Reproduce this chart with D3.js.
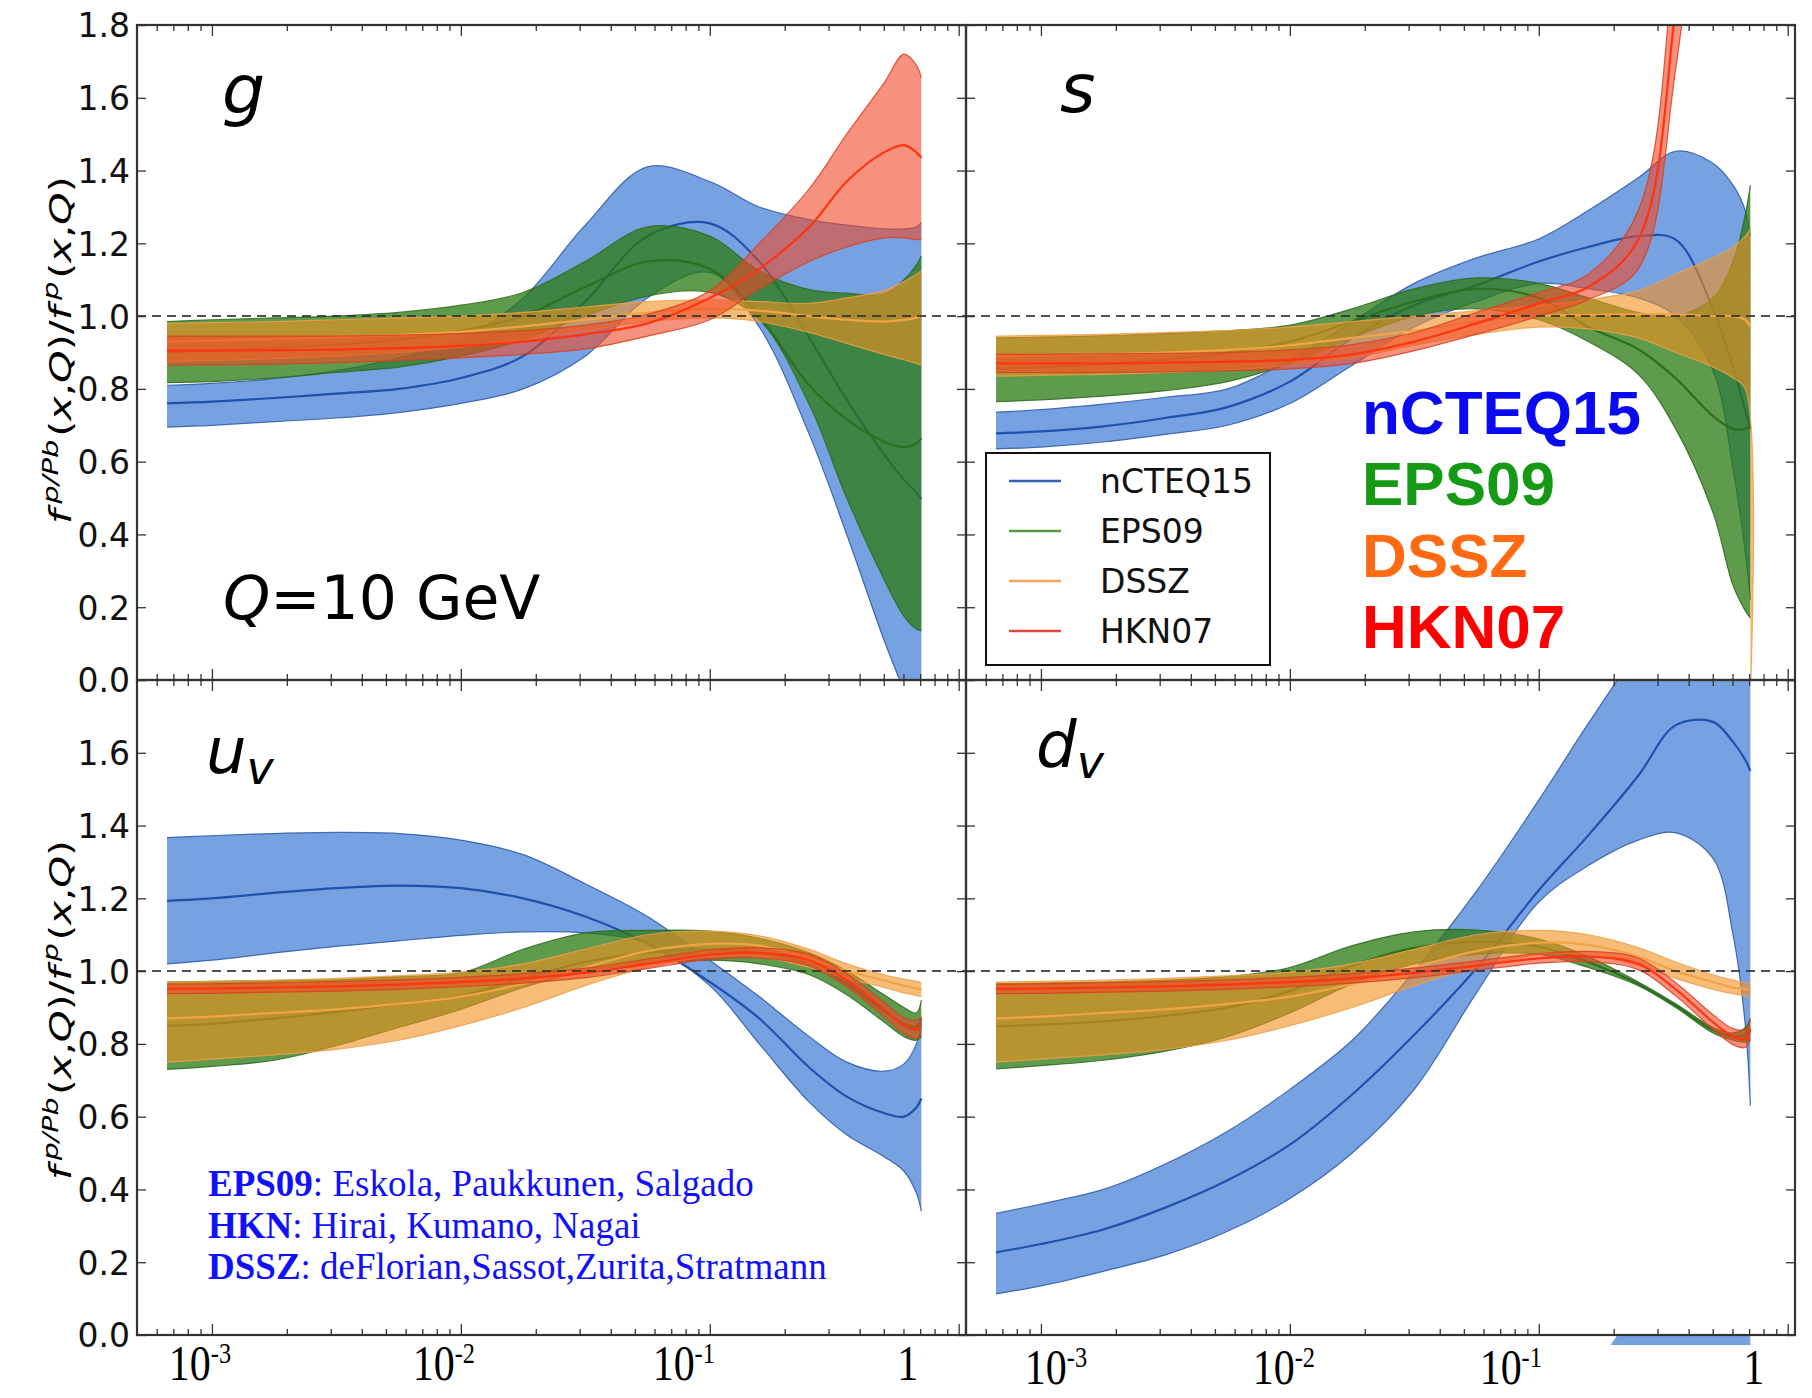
<!DOCTYPE html>
<html>
<head>
<meta charset="utf-8">
<script src="https://cdn.jsdelivr.net/npm/d3@7"></script>
<style>
  body { margin: 0; background: #fff; }
  svg { display: block; }
  .ax .tick line { stroke: #333; stroke-width: 1.3; }
  .ax .domain { display: none; }
</style>
</head>
<body>
<svg id="chart" width="1812" height="1398"></svg>
<script>
const xGrid = [6.6e-4, 1e-3, 1.78e-3, 3.16e-3, 5.62e-3, 0.01, 0.0178, 0.0316, 0.0562, 0.1, 0.158, 0.251, 0.355, 0.501, 0.603, 0.676, 0.708];

const setNames = ['nCTEQ15', 'EPS09', 'DSSZ', 'HKN07'];

// ---- g ----
const gNcteqHi = [0.81, 0.815, 0.828, 0.85, 0.885, 0.935, 1.05, 1.25, 1.41, 1.37, 1.30, 1.265, 1.25, 1.24, 1.24, 1.245, 1.257];
const gNcteqMid = [0.76, 0.765, 0.775, 0.787, 0.80, 0.83, 0.89, 1.04, 1.22, 1.255, 1.15, 0.94, 0.77, 0.62, 0.55, 0.515, 0.497];
const gNcteqLo = [0.695, 0.70, 0.71, 0.72, 0.735, 0.76, 0.80, 0.89, 1.05, 1.12, 0.97, 0.675, 0.40, 0.11, -0.03, -0.12, -0.15];
const gEpsHi = [0.985, 0.99, 0.995, 1.0, 1.01, 1.03, 1.065, 1.15, 1.245, 1.22, 1.124, 1.073, 1.063, 1.06, 1.10, 1.14, 1.165];
const gEpsMid = [0.90, 0.905, 0.913, 0.922, 0.935, 0.96, 1.0, 1.08, 1.15, 1.13, 1.0, 0.81, 0.716, 0.655, 0.64, 0.65, 0.665];
const gEpsLo = [0.817, 0.82, 0.83, 0.845, 0.86, 0.89, 0.935, 1.0, 1.055, 1.065, 0.99, 0.757, 0.50, 0.277, 0.175, 0.14, 0.135];
const gDsszHi = [0.98, 0.982, 0.985, 0.99, 0.995, 1.0, 1.01, 1.025, 1.04, 1.045, 1.04, 1.035, 1.05, 1.07, 1.095, 1.115, 1.125];
const gDsszMid = [0.93, 0.933, 0.937, 0.942, 0.948, 0.957, 0.972, 0.99, 1.01, 1.02, 1.015, 1.0, 0.99, 0.985, 0.99, 0.995, 1.0];
const gDsszLo = [0.875, 0.878, 0.883, 0.89, 0.9, 0.915, 0.935, 0.96, 0.985, 0.995, 0.985, 0.955, 0.925, 0.895, 0.88, 0.87, 0.865];
const gHknHi = [0.945, 0.945, 0.945, 0.945, 0.948, 0.952, 0.96, 0.975, 1.005, 1.07, 1.2, 1.35, 1.50, 1.64, 1.72, 1.69, 1.655];
const gHknMid = [0.905, 0.905, 0.906, 0.908, 0.912, 0.918, 0.93, 0.95, 0.98, 1.05, 1.13, 1.245, 1.37, 1.45, 1.47, 1.45, 1.435];
const gHknLo = [0.865, 0.866, 0.868, 0.872, 0.878, 0.885, 0.895, 0.91, 0.945, 0.99, 1.075, 1.15, 1.19, 1.215, 1.215, 1.21, 1.21];

// ---- s ----
const sNcteqHi = [0.736, 0.743, 0.758, 0.777, 0.80, 0.88, 0.985, 1.09, 1.16, 1.212, 1.29, 1.38, 1.453, 1.42, 1.36, 1.29, 1.22];
const sNcteqMid = [0.678, 0.683, 0.697, 0.72, 0.75, 0.82, 0.94, 1.03, 1.085, 1.15, 1.19, 1.22, 1.21, 1.02, 0.86, 0.74, 0.69];
const sNcteqLo = [0.635, 0.64, 0.654, 0.675, 0.70, 0.76, 0.865, 0.97, 1.04, 1.09, 1.075, 1.05, 1.0, 0.85, 0.58, 0.35, 0.22];
const sEpsHi = [0.94, 0.942, 0.946, 0.952, 0.96, 0.975, 1.02, 1.075, 1.105, 1.09, 1.05, 1.01, 1.0, 1.05, 1.15, 1.28, 1.36];
const sEpsMid = [0.855, 0.86, 0.868, 0.88, 0.90, 0.93, 0.985, 1.04, 1.075, 1.05, 0.97, 0.909, 0.829, 0.725, 0.69, 0.69, 0.70];
const sEpsLo = [0.765, 0.77, 0.78, 0.795, 0.82, 0.87, 0.94, 1.0, 1.02, 0.99, 0.93, 0.84, 0.69, 0.46, 0.26, 0.19, 0.17];
const sDsszHi = [0.945, 0.947, 0.95, 0.955, 0.96, 0.97, 0.985, 1.0, 1.015, 1.03, 1.045, 1.07, 1.115, 1.16, 1.19, 1.22, 1.24];
const sDsszMid = [0.89, 0.892, 0.895, 0.9, 0.907, 0.92, 0.94, 0.96, 0.985, 1.0, 1.003, 1.005, 1.005, 1.0, 1.0, 0.99, 0.97];
const sDsszLo = [0.835, 0.837, 0.84, 0.845, 0.852, 0.865, 0.885, 0.92, 0.95, 0.97, 0.965, 0.94, 0.9, 0.86, 0.83, 0.8, -0.05];
const sHknHi = [0.895, 0.895, 0.896, 0.898, 0.90, 0.907, 0.922, 0.955, 1.01, 1.065, 1.115, 1.29, 2.05, 3.4, 4.0, 4.4, 4.6];
const sHknMid = [0.87, 0.87, 0.87, 0.872, 0.875, 0.88, 0.895, 0.93, 0.98, 1.035, 1.08, 1.21, 1.85, 3.0, 3.6, 4.0, 4.2];
const sHknLo = [0.845, 0.845, 0.845, 0.847, 0.85, 0.855, 0.87, 0.905, 0.95, 1.0, 1.045, 1.13, 1.68, 2.6, 3.2, 3.6, 3.8];

// ---- u_v ----
const uNcteqHi = [1.367, 1.372, 1.378, 1.381, 1.378, 1.36, 1.32, 1.24, 1.15, 1.03, 0.93, 0.82, 0.75, 0.725, 0.745, 0.80, 0.86];
const uNcteqMid = [1.193, 1.2, 1.215, 1.228, 1.235, 1.228, 1.20, 1.15, 1.075, 0.97, 0.87, 0.735, 0.655, 0.61, 0.60, 0.625, 0.65];
const uNcteqLo = [1.02, 1.03, 1.05, 1.068, 1.083, 1.098, 1.108, 1.105, 1.075, 0.96, 0.80, 0.64, 0.55, 0.49, 0.45, 0.39, 0.34];
const uEpsHi = [0.97, 0.972, 0.974, 0.976, 0.985, 0.995, 1.06, 1.105, 1.112, 1.11, 1.09, 1.05, 1.0, 0.935, 0.9, 0.885, 0.92];
const uEpsMid = [0.85, 0.855, 0.87, 0.888, 0.91, 0.932, 0.98, 1.025, 1.05, 1.06, 1.05, 1.02, 0.965, 0.89, 0.855, 0.848, 0.87];
const uEpsLo = [0.73, 0.738, 0.755, 0.795, 0.845, 0.895, 0.955, 1.0, 1.02, 1.03, 1.02, 0.99, 0.935, 0.86, 0.82, 0.81, 0.82];
const uDsszHi = [0.97, 0.972, 0.975, 0.98, 0.987, 0.997, 1.02, 1.06, 1.1, 1.11, 1.097, 1.06, 1.02, 0.99, 0.978, 0.972, 0.968];
const uDsszMid = [0.87, 0.875, 0.885, 0.895, 0.91, 0.93, 0.965, 1.01, 1.055, 1.075, 1.07, 1.035, 1.0, 0.975, 0.96, 0.952, 0.95];
const uDsszLo = [0.75, 0.758, 0.77, 0.785, 0.81, 0.85, 0.9, 0.96, 1.01, 1.04, 1.04, 1.01, 0.98, 0.955, 0.94, 0.933, 0.93];
const uHknHi = [0.964, 0.965, 0.968, 0.971, 0.976, 0.983, 0.993, 1.008, 1.033, 1.058, 1.064, 1.046, 0.993, 0.915, 0.872, 0.865, 0.875];
const uHknMid = [0.951, 0.952, 0.955, 0.958, 0.963, 0.97, 0.98, 0.995, 1.02, 1.045, 1.05, 1.03, 0.975, 0.895, 0.85, 0.84, 0.85];
const uHknLo = [0.938, 0.939, 0.942, 0.945, 0.95, 0.957, 0.967, 0.982, 1.007, 1.032, 1.036, 1.014, 0.957, 0.875, 0.828, 0.815, 0.825];

// ---- d_v ----
const dNcteqHi = [0.334, 0.36, 0.40, 0.47, 0.56, 0.675, 0.81, 1.0, 1.22, 1.47, 1.68, 1.88, 2.0, 2.1, 2.15, 2.15, 2.15];
const dNcteqMid = [0.227, 0.25, 0.29, 0.35, 0.425, 0.523, 0.661, 0.825, 1.008, 1.222, 1.373, 1.537, 1.676, 1.685, 1.63, 1.58, 1.55];
const dNcteqLo = [0.113, 0.135, 0.175, 0.22, 0.285, 0.375, 0.50, 0.675, 0.94, 1.19, 1.29, 1.36, 1.38, 1.31, 1.10, 0.85, 0.63];
const dEpsHi = [0.965, 0.967, 0.97, 0.975, 0.985, 1.01, 1.07, 1.108, 1.113, 1.088, 1.04, 0.97, 0.91, 0.845, 0.83, 0.845, 0.87];
const dEpsMid = [0.848, 0.853, 0.862, 0.877, 0.9, 0.945, 1.015, 1.064, 1.08, 1.067, 1.025, 0.965, 0.905, 0.838, 0.82, 0.825, 0.84];
const dEpsLo = [0.731, 0.74, 0.755, 0.78, 0.82, 0.885, 0.965, 1.02, 1.046, 1.046, 1.01, 0.96, 0.9, 0.83, 0.81, 0.805, 0.81];
const dDsszHi = [0.97, 0.972, 0.975, 0.98, 0.987, 0.997, 1.02, 1.06, 1.1, 1.112, 1.1, 1.065, 1.025, 0.99, 0.975, 0.968, 0.965];
const dDsszMid = [0.87, 0.875, 0.885, 0.895, 0.91, 0.93, 0.965, 1.01, 1.055, 1.078, 1.072, 1.04, 1.0, 0.97, 0.955, 0.95, 0.948];
const dDsszLo = [0.75, 0.758, 0.77, 0.785, 0.81, 0.85, 0.9, 0.96, 1.01, 1.045, 1.045, 1.015, 0.98, 0.95, 0.938, 0.932, 0.93];
const dHknHi = [0.964, 0.965, 0.968, 0.971, 0.976, 0.983, 0.993, 1.008, 1.028, 1.048, 1.054, 1.036, 0.968, 0.88, 0.842, 0.84, 0.865];
const dHknMid = [0.951, 0.952, 0.955, 0.958, 0.963, 0.97, 0.98, 0.995, 1.015, 1.035, 1.04, 1.02, 0.95, 0.86, 0.82, 0.815, 0.84];
const dHknLo = [0.938, 0.939, 0.942, 0.945, 0.95, 0.957, 0.967, 0.982, 1.002, 1.022, 1.026, 1.004, 0.932, 0.84, 0.798, 0.79, 0.815];

// axis ticks and labels
const yTicks = [0, 0.2, 0.4, 0.6, 0.8, 1.0, 1.2, 1.4, 1.6, 1.8];
const xMajor = [1e-3, 1e-2, 1e-1, 1];
const xMinor = [6e-4, 7e-4, 8e-4, 9e-4, 2e-3, 3e-3, 4e-3, 5e-3, 6e-3, 7e-3, 8e-3, 9e-3,
  0.02, 0.03, 0.04, 0.05, 0.06, 0.07, 0.08, 0.09, 0.2, 0.3, 0.4, 0.5, 0.6, 0.7, 0.8, 0.9];
const xLabelSup = ['-3', '-2', '-1', ''];
const refNames = ['EPS09', 'HKN', 'DSSZ'];
const refAuthors = [': Eskola, Paukkunen, Salgado', ': Hirai, Kumano, Nagai', ': deFlorian,Sassot,Zurita,Stratmann'];

// ---- layout / style ----
const cols = [[137, 966], [966, 1795]];
const rows = [[25, 680], [680, 1335]];
const xDomain = [5e-4, 1.07];
const yDomain = [0, 1.8];
// the x tick labels were pasted by hand in the original, slightly off their ticks
const xLabelShift = [[-12, -17, -26, -51], [15, -6, -28, -34]];
const xLabelBase = [1380, 1384];

const styles = {
  nCTEQ15: { fill: '#3d7ad6', op: 0.7, edge: '#2a58a4', line: '#1f52ad' },
  EPS09: { fill: '#2a7a10', op: 0.75, edge: '#2d6a1c', line: '#2c7020' },
  DSSZ: { fill: '#f39020', op: 0.6, edge: '#eda04a', line: '#f1a445' },
  HKN07: { fill: '#f04828', op: 0.6, edge: '#d8401e', line: '#ff3410' }
};

const panels = [
  { name: 'g', bands: [[gNcteqLo, gNcteqMid, gNcteqHi], [gEpsLo, gEpsMid, gEpsHi], [gDsszLo, gDsszMid, gDsszHi], [gHknLo, gHknMid, gHknHi]] },
  { name: 's', bands: [[sNcteqLo, sNcteqMid, sNcteqHi], [sEpsLo, sEpsMid, sEpsHi], [sDsszLo, sDsszMid, sDsszHi], [sHknLo, sHknMid, sHknHi]] },
  { name: 'u', sub: 'v', bands: [[uNcteqLo, uNcteqMid, uNcteqHi], [uEpsLo, uEpsMid, uEpsHi], [uDsszLo, uDsszMid, uDsszHi], [uHknLo, uHknMid, uHknHi]] },
  { name: 'd', sub: 'v', bands: [[dNcteqLo, dNcteqMid, dNcteqHi], [dEpsLo, dEpsMid, dEpsHi], [dDsszLo, dDsszMid, dDsszHi], [dHknLo, dHknMid, dHknHi]] }
];

const svg = d3.select('#chart');
svg.append('rect').attr('width', 1812).attr('height', 1398).attr('fill', '#fff');
const defs = svg.append('defs');
const SANS = '"DejaVu Sans", sans-serif';
const curve = d3.curveCatmullRom.alpha(0.5);

function drawBand(g, band, style, x, y, withLines) {
  const [lo, mid, hi] = band;
  const area = d3.area()
    .x((d, i) => x(xGrid[i]))
    .y0((d, i) => y(lo[i]))
    .y1((d, i) => y(hi[i]))
    .curve(curve);
  g.append('path').attr('d', area(xGrid)).attr('fill', style.fill).attr('fill-opacity', style.op);
  if (!withLines) return;
  const line = (arr) => d3.line().x((d, i) => x(xGrid[i])).y((d, i) => y(arr[i])).curve(curve)(xGrid);
  [lo, hi].forEach((arr) => {
    g.append('path').attr('d', line(arr)).attr('fill', 'none')
      .attr('stroke', style.edge).attr('stroke-width', 1.2).attr('stroke-opacity', 0.85);
  });
  g.append('path').attr('d', line(mid)).attr('fill', 'none')
    .attr('stroke', style.line).attr('stroke-width', 2.2);
}

panels.forEach((p, k) => {
  const [x0, x1] = cols[k % 2];
  const [y0, y1] = rows[Math.floor(k / 2)];
  const x = d3.scaleLog().domain(xDomain).range([x0, x1]);
  const y = d3.scaleLinear().domain(yDomain).range([y1, y0]);

  defs.append('clipPath').attr('id', 'clip' + k)
    .append('rect').attr('x', x0).attr('y', y0).attr('width', x1 - x0).attr('height', y1 - y0);
  const plot = svg.append('g').attr('clip-path', `url(#clip${k})`);

  p.bands.forEach((b, j) => drawBand(plot, b, styles[setNames[j]], x, y, true));

  plot.append('line')
    .attr('x1', x0).attr('x2', x1).attr('y1', y(1)).attr('y2', y(1))
    .attr('stroke', '#333').attr('stroke-width', 2).attr('stroke-dasharray', '9,6').attr('opacity', 0.85);

  // the d_v band top shows up again just under the bottom axis (stacking seam of the original)
  if (p.name === 'd') {
    defs.append('clipPath').attr('id', 'seam')
      .append('rect').attr('x', x0).attr('y', y1 + 1).attr('width', x1 - x0).attr('height', 9);
    const seam = svg.append('g').attr('clip-path', 'url(#seam)')
      .append('g').attr('transform', `translate(0,${y1 - y0})`);
    drawBand(seam, p.bands[0], styles.nCTEQ15, x, y, false);
  }

  p.x = x; p.y = y; p.box = [x0, x1, y0, y1];
});

// axes, frames and tick marks on top
panels.forEach((p, k) => {
  const { x, y } = p;
  const [x0, x1, y0, y1] = p.box;
  const ax = svg.append('g').attr('class', 'ax');

  const addX = (axisFn, ypos, vals, size) => ax.append('g').attr('transform', `translate(0,${ypos})`)
    .call(axisFn(x).tickValues(vals).tickSize(-size).tickSizeOuter(0).tickFormat(''));
  addX(d3.axisBottom, y1, xMajor, 11);
  addX(d3.axisBottom, y1, xMinor, 6);
  addX(d3.axisTop, y0, xMajor, 11);
  addX(d3.axisTop, y0, xMinor, 6);

  ax.append('g').attr('transform', `translate(${x1},0)`)
    .call(d3.axisRight(y).tickValues(yTicks).tickSize(-9).tickSizeOuter(0).tickFormat(''));
  const left = ax.append('g').attr('transform', `translate(${x0},0)`)
    .call(d3.axisLeft(y).tickValues(yTicks).tickSize(-9).tickSizeOuter(0).tickPadding(7)
      .tickFormat(k % 2 === 0 ? d3.format('.1f') : ''));
  left.selectAll('text').attr('font-family', SANS).attr('font-size', 33).attr('fill', '#111')
    .attr('dy', '0.36em');
  if (k === 2) left.selectAll('text').filter((d) => d === 1.8).remove();

  ax.append('rect').attr('x', x0).attr('y', y0).attr('width', x1 - x0).attr('height', y1 - y0)
    .attr('fill', 'none').attr('stroke', '#333').attr('stroke-width', 2.2);

  // panel letter
  const top = k < 2;
  const letter = svg.append('text')
    .attr('x', [222, 1060, 206, 1036][k]).attr('y', [113, 112, 773, 767][k])
    .attr('font-family', SANS).attr('font-style', 'italic')
    .attr('font-size', top ? 68 : 64).attr('fill', '#000').text(p.name);
  if (p.sub) letter.append('tspan').attr('font-size', 46).attr('dy', 11).text(p.sub);

  // x tick labels under the bottom row
  if (!top) {
    const c = k % 2;
    xMajor.forEach((v, i) => {
      const t = svg.append('text')
        .attr('transform', `translate(${x(v) + xLabelShift[c][i]},${xLabelBase[c]}) scale(0.84,1)`)
        .attr('text-anchor', 'middle').attr('font-family', '"Liberation Serif", serif')
        .attr('font-size', 50).attr('fill', '#000');
      t.append('tspan').text(v === 1 ? '1' : '10');
      if (xLabelSup[i]) t.append('tspan').attr('font-size', 29).attr('dy', -17).text(xLabelSup[i]);
    });
  }
});

// y axis titles
[[350, 348], [1010, 340]].forEach(([cy, len]) => {
  const t = svg.append('text').attr('font-family', SANS).attr('font-size', 30).attr('fill', '#000')
    .attr('text-anchor', 'middle');
  const part = (s, o = {}) => {
    const ts = t.append('tspan').text(s);
    if (o.it) ts.attr('font-style', 'italic');
    if (o.size) ts.attr('font-size', o.size);
    if (o.dy) ts.attr('dy', o.dy);
    if (o.dx) ts.attr('dx', o.dx);
    return ts;
  };
  part('f', { it: true });
  part('p/Pb', { it: true, size: 21, dy: -13, dx: 4 });
  part('(', { dy: 13, dx: 2 }); part('x', { it: true }); part(','); part('Q', { it: true }); part(')/');
  part('f', { it: true });
  part('p', { it: true, size: 21, dy: -13, dx: 4 });
  part('(', { dy: 13, dx: 2 }); part('x', { it: true }); part(','); part('Q', { it: true }); part(')');
  const w = t.node().getBBox().width;
  t.attr('transform', `translate(71,${cy}) rotate(-90) scale(${len / w},1)`);
});

// Q = 10 GeV
const qText = svg.append('text').attr('x', 223).attr('y', 619)
  .attr('font-family', SANS).attr('font-size', 60).attr('fill', '#000');
qText.append('tspan').attr('font-style', 'italic').text('Q');
qText.append('tspan').text('=10 GeV');

// legend
const legend = svg.append('g');
legend.append('rect').attr('x', 986).attr('y', 453).attr('width', 284).attr('height', 212)
  .attr('fill', '#fff').attr('stroke', '#111').attr('stroke-width', 2);
const legendLine = ['#3462b4', '#5c9a42', '#f0a464', '#e0483a'];
setNames.forEach((n, i) => {
  const cy = 481 + i * 50;
  legend.append('line').attr('x1', 1009).attr('x2', 1061).attr('y1', cy).attr('y2', cy)
    .attr('stroke', legendLine[i]).attr('stroke-width', 2.5);
  legend.append('text').attr('x', 1100).attr('y', cy).attr('dy', '0.36em')
    .attr('font-family', SANS).attr('font-size', 33).attr('fill', '#111').text(n);
});

// big coloured set names
const bigColors = ['#0a0af0', '#169a16', '#ff6a12', '#ff0000'];
setNames.forEach((n, i) => {
  svg.append('text').attr('x', 1362).attr('y', [434, 505, 577, 648][i])
    .attr('font-family', '"Liberation Sans", Arial, sans-serif').attr('font-weight', 'bold')
    .attr('font-size', 62).attr('fill', bigColors[i]).text(n);
});

// references
refNames.forEach((n, i) => {
  const t = svg.append('text').attr('x', 208).attr('y', 1196 + i * 41.5)
    .attr('font-family', '"Liberation Serif", "Times New Roman", serif').attr('font-size', 37).attr('fill', '#1010ff');
  t.append('tspan').attr('font-weight', 'bold').text(n);
  t.append('tspan').text(refAuthors[i]);
});
</script>
</body>
</html>
